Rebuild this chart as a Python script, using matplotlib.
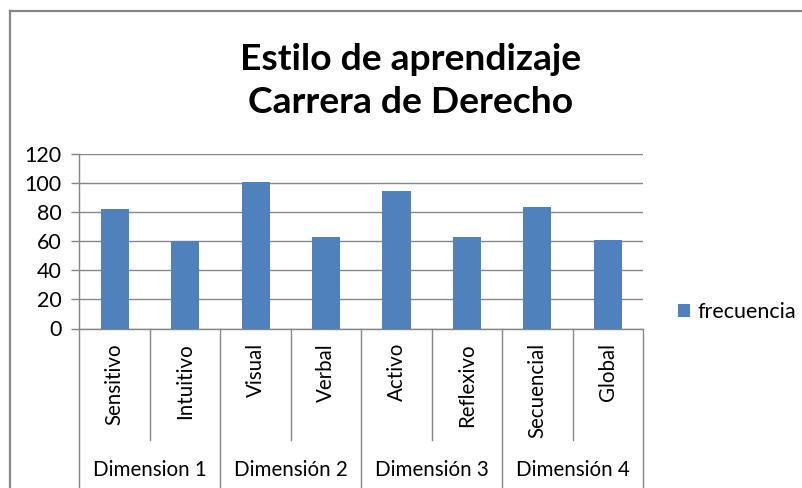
import matplotlib
matplotlib.use('Agg')
import matplotlib.pyplot as plt
from matplotlib.lines import Line2D
import matplotlib.transforms as mtransforms

# ---- data ----
categories = ['Sensitivo', 'Intuitivo', 'Visual', 'Verbal',
              'Activo', 'Reflexivo', 'Secuencial', 'Global']
groups = ['Dimension 1', 'Dimensión 2', 'Dimensión 3', 'Dimensión 4']
group_sizes = [2, 2, 2, 2]
frecuencia = [82, 60, 101, 63, 95, 63, 84, 61]
y_ticks = [0, 20, 40, 60, 80, 100, 120]
title_lines = ['Estilo de aprendizaje', 'Carrera de Derecho']
series_name = 'frecuencia'

plt.rcParams['font.family'] = ['Lato', 'DejaVu Sans']

W, H = 803, 488
fig = plt.figure(figsize=(W / 100, H / 100), dpi=100)
fig.patch.set_facecolor('white')


def fx(px):
    return px / W


def fy(py):
    return 1 - py / H


GRAY = '#868686'
ax = fig.add_axes([fx(79.5), fy(328.5), fx(643) - fx(79.5), fy(154.3) - fy(328.5)])
xs = list(range(len(categories)))
ax.bar(xs, frecuencia, width=0.4, color='#4F81BD', label=series_name, zorder=3)
ax.set_xlim(-0.5, len(categories) - 0.5)
ax.set_ylim(y_ticks[0], y_ticks[-1])
ax.set_yticks(y_ticks)
ax.yaxis.grid(True, color=GRAY, lw=1.0)
ax.set_axisbelow(True)
for s in ['top', 'right']:
    ax.spines[s].set_visible(False)
for s in ['left', 'bottom']:
    ax.spines[s].set_color(GRAY)
    ax.spines[s].set_linewidth(1.0)
ax.tick_params(axis='y', length=6, width=1.0, color=GRAY, direction='out',
               labelsize=15.5, pad=7, labelcolor='black')
ax.set_xticks([])

# category and group axis
trans = mtransforms.blended_transform_factory(ax.transData, fig.transFigure)
for i, cat in enumerate(categories):
    ax.text(i, fy(343), cat, rotation=90, ha='center', va='top',
            transform=trans, fontsize=14.8, color='black')

start = 0
bounds = [-0.5]
for g, n in zip(groups, group_sizes):
    end = start + n
    ax.text((start + end - 1) / 2, fy(470), g, ha='center', va='center',
            transform=trans, fontsize=14.8, color='black')
    # inner separators
    for k in range(start, end - 1):
        ax.add_line(Line2D([k + 0.5, k + 0.5], [fy(328.5), fy(440)], transform=trans,
                           color=GRAY, lw=1.0, clip_on=False))
    bounds.append(end - 0.5)
    start = end
for b in bounds:
    ax.add_line(Line2D([b, b], [fy(328.5), fy(492)], transform=trans,
                       color=GRAY, lw=1.0, clip_on=False))

# title (two lines, baselines as in the reference)
fig.text(fx(411), fy(70), title_lines[0], ha='center', va='baseline', fontsize=26.8,
         fontweight='bold', color='black')
fig.text(fx(411), fy(113), title_lines[1], ha='center', va='baseline', fontsize=26.8,
         fontweight='bold', color='black')

# legend
ax.legend(loc='center left', bbox_to_anchor=(fx(678), fy(312.5)),
          bbox_transform=fig.transFigure, frameon=False, fontsize=15.5,
          handlelength=0.55, handleheight=0.55, handletextpad=0.35,
          borderpad=0, borderaxespad=0)

# chart border
fig.add_artist(Line2D([fx(10), fx(10)], [fy(11), fy(490)], transform=fig.transFigure,
                      color='#878787', lw=1.6))
fig.add_artist(Line2D([fx(10), fx(805)], [fy(11), fy(11)], transform=fig.transFigure,
                      color='#878787', lw=1.6))

fig.savefig('out.png', dpi=100, facecolor='white')
